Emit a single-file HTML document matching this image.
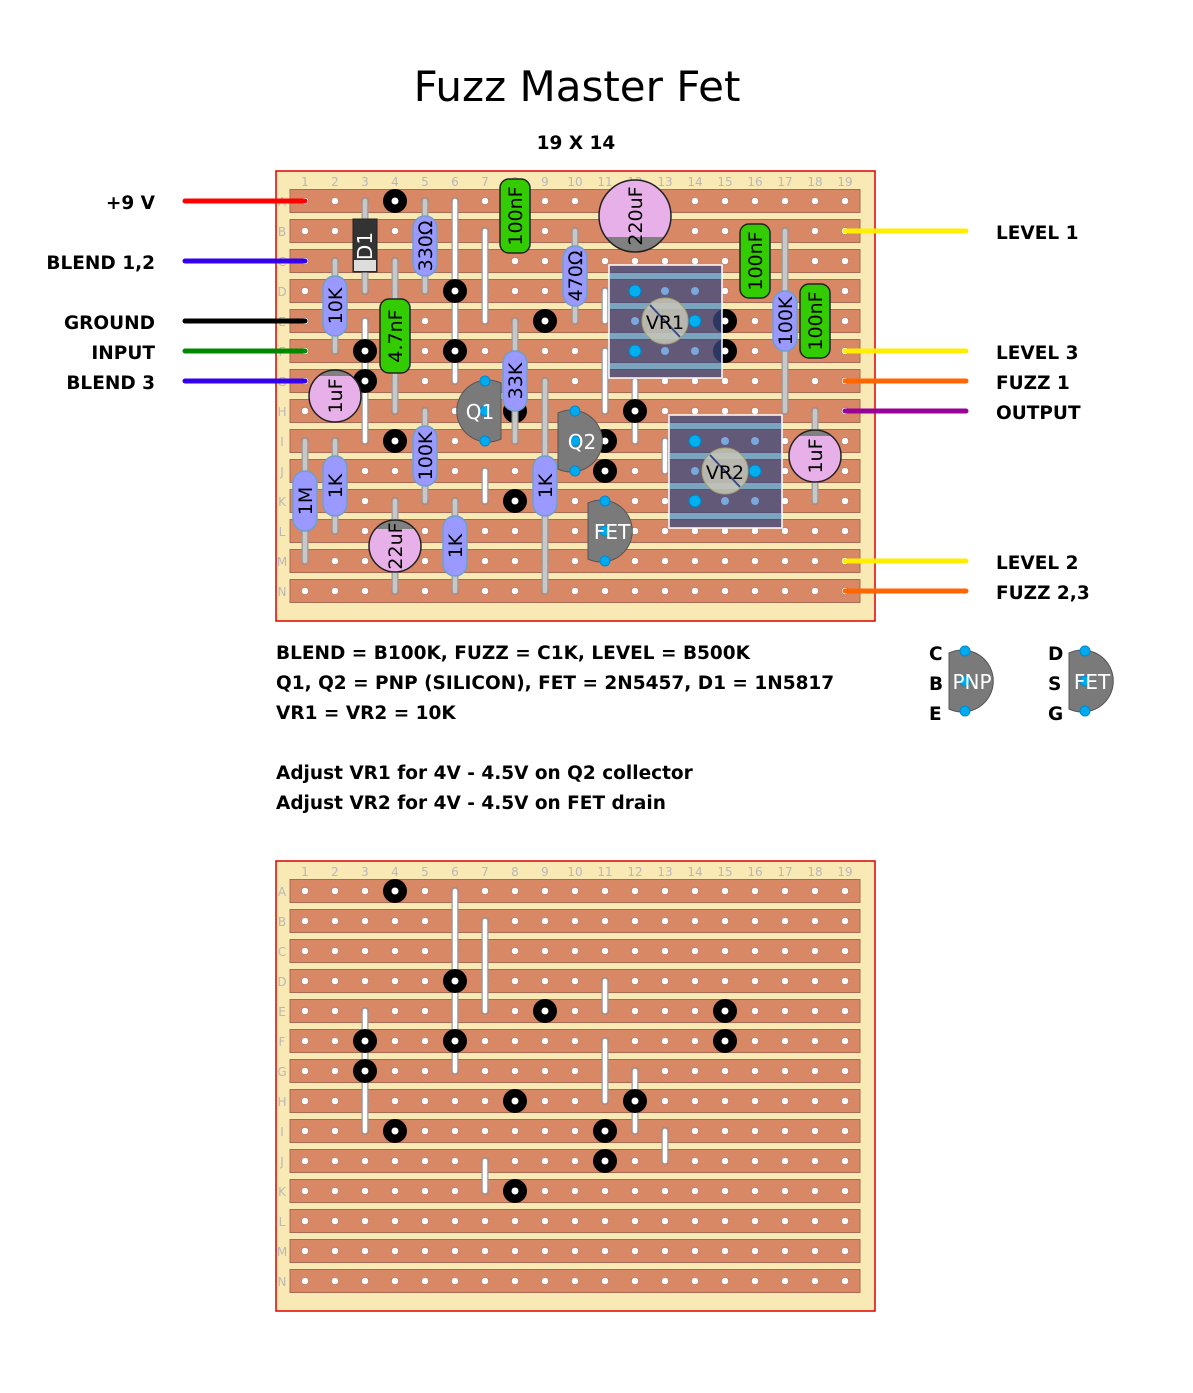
<!DOCTYPE html>
<html><head><meta charset="utf-8"><style>
html,body{margin:0;padding:0;background:#fff;}
svg{display:block;}
.lbl{font-family:"DejaVu Sans","Liberation Sans",sans-serif;font-weight:bold;font-size:18.5px;fill:#000;}
.num{font-family:"DejaVu Sans","Liberation Sans",sans-serif;font-size:12px;fill:#b8b8b8;}
.pt{font-family:"DejaVu Sans","Liberation Sans",sans-serif;font-size:19px;fill:#000;}
.wt{font-family:"DejaVu Sans","Liberation Sans",sans-serif;font-size:20px;fill:#fff;}
</style></head><body>
<svg width="1193" height="1393" viewBox="0 0 1193 1393" xmlns="http://www.w3.org/2000/svg">
<defs>
<pattern id="holes" patternUnits="userSpaceOnUse" x="290" y="186" width="30" height="30">
<circle cx="15" cy="15" r="3.6" fill="#fff" stroke="#b07060" stroke-width="0.6"/>
</pattern>
<g id="base">
<rect x="276" y="171" width="599" height="450" fill="#f9e9b4" stroke="#e00000" stroke-width="1.5"/>
<g fill="#d98866" stroke="#a86a52" stroke-width="1">
<rect x="290" y="189.5" width="570" height="23"/><rect x="290" y="219.5" width="570" height="23"/>
<rect x="290" y="249.5" width="570" height="23"/><rect x="290" y="279.5" width="570" height="23"/>
<rect x="290" y="309.5" width="570" height="23"/><rect x="290" y="339.5" width="570" height="23"/>
<rect x="290" y="369.5" width="570" height="23"/><rect x="290" y="399.5" width="570" height="23"/>
<rect x="290" y="429.5" width="570" height="23"/><rect x="290" y="459.5" width="570" height="23"/>
<rect x="290" y="489.5" width="570" height="23"/><rect x="290" y="519.5" width="570" height="23"/>
<rect x="290" y="549.5" width="570" height="23"/><rect x="290" y="579.5" width="570" height="23"/>
</g>
<rect x="290" y="186" width="570" height="420" fill="url(#holes)"/>
<g stroke="#999" stroke-width="7" stroke-linecap="round">
<line x1="455" y1="201" x2="455" y2="381"/><line x1="485" y1="231" x2="485" y2="321"/>
<line x1="365" y1="321" x2="365" y2="441"/><line x1="605" y1="291" x2="605" y2="321"/>
<line x1="605" y1="351" x2="605" y2="411"/><line x1="635" y1="381" x2="635" y2="441"/>
<line x1="665" y1="441" x2="665" y2="471"/><line x1="485" y1="471" x2="485" y2="501"/>
</g>
<g stroke="#fff" stroke-width="4.5" stroke-linecap="round">
<line x1="455" y1="201" x2="455" y2="381"/><line x1="485" y1="231" x2="485" y2="321"/>
<line x1="365" y1="321" x2="365" y2="441"/><line x1="605" y1="291" x2="605" y2="321"/>
<line x1="605" y1="351" x2="605" y2="411"/><line x1="635" y1="381" x2="635" y2="441"/>
<line x1="665" y1="441" x2="665" y2="471"/><line x1="485" y1="471" x2="485" y2="501"/>
</g>
<g fill="#000">
<circle cx="395" cy="201" r="12"/><circle cx="455" cy="291" r="12"/><circle cx="545" cy="321" r="12"/>
<circle cx="725" cy="321" r="12"/><circle cx="365" cy="351" r="12"/><circle cx="455" cy="351" r="12"/>
<circle cx="725" cy="351" r="12"/><circle cx="365" cy="381" r="12"/><circle cx="515" cy="411" r="12"/>
<circle cx="635" cy="411" r="12"/><circle cx="395" cy="441" r="12"/><circle cx="605" cy="441" r="12"/>
<circle cx="605" cy="471" r="12"/><circle cx="515" cy="501" r="12"/>
</g>
<g fill="#fff">
<circle cx="395" cy="201" r="3.5"/><circle cx="455" cy="291" r="3.5"/><circle cx="545" cy="321" r="3.5"/>
<circle cx="725" cy="321" r="3.5"/><circle cx="365" cy="351" r="3.5"/><circle cx="455" cy="351" r="3.5"/>
<circle cx="725" cy="351" r="3.5"/><circle cx="365" cy="381" r="3.5"/><circle cx="515" cy="411" r="3.5"/>
<circle cx="635" cy="411" r="3.5"/><circle cx="395" cy="441" r="3.5"/><circle cx="605" cy="441" r="3.5"/>
<circle cx="605" cy="471" r="3.5"/><circle cx="515" cy="501" r="3.5"/>
</g>
</g>
</defs>

<text x="577" y="101" text-anchor="middle" font-family="DejaVu Sans,Liberation Sans,sans-serif" font-size="42" fill="#000">Fuzz Master Fet</text>
<text x="576" y="149" text-anchor="middle" class="lbl">19 X 14</text>

<use href="#base"/>
<use href="#base" transform="translate(0,690)"/>

<g class="num" text-anchor="middle">
<text x="305" y="186">1</text><text x="335" y="186">2</text><text x="365" y="186">3</text><text x="395" y="186">4</text><text x="425" y="186">5</text><text x="455" y="186">6</text><text x="485" y="186">7</text><text x="515" y="186">8</text><text x="545" y="186">9</text><text x="575" y="186">10</text><text x="605" y="186">11</text><text x="635" y="186">12</text><text x="665" y="186">13</text><text x="695" y="186">14</text><text x="725" y="186">15</text><text x="755" y="186">16</text><text x="785" y="186">17</text><text x="815" y="186">18</text><text x="845" y="186">19</text>
<text x="282" y="206">A</text><text x="282" y="236">B</text><text x="282" y="266">C</text><text x="282" y="296">D</text><text x="282" y="326">E</text><text x="282" y="356">F</text><text x="282" y="386">G</text><text x="282" y="416">H</text><text x="282" y="446">I</text><text x="282" y="476">J</text><text x="282" y="506">K</text><text x="282" y="536">L</text><text x="282" y="566">M</text><text x="282" y="596">N</text>
</g>
<g class="num" text-anchor="middle">
<text x="305" y="876">1</text><text x="335" y="876">2</text><text x="365" y="876">3</text><text x="395" y="876">4</text><text x="425" y="876">5</text><text x="455" y="876">6</text><text x="485" y="876">7</text><text x="515" y="876">8</text><text x="545" y="876">9</text><text x="575" y="876">10</text><text x="605" y="876">11</text><text x="635" y="876">12</text><text x="665" y="876">13</text><text x="695" y="876">14</text><text x="725" y="876">15</text><text x="755" y="876">16</text><text x="785" y="876">17</text><text x="815" y="876">18</text><text x="845" y="876">19</text>
<text x="282" y="896">A</text><text x="282" y="926">B</text><text x="282" y="956">C</text><text x="282" y="986">D</text><text x="282" y="1016">E</text><text x="282" y="1046">F</text><text x="282" y="1076">G</text><text x="282" y="1106">H</text><text x="282" y="1136">I</text><text x="282" y="1166">J</text><text x="282" y="1196">K</text><text x="282" y="1226">L</text><text x="282" y="1256">M</text><text x="282" y="1286">N</text>
</g>

<g stroke-width="5" stroke-linecap="round">
<line x1="185" y1="201" x2="305" y2="201" stroke="#ff0000"/>
<line x1="185" y1="261" x2="305" y2="261" stroke="#3300ee"/>
<line x1="185" y1="321" x2="305" y2="321" stroke="#000"/>
<line x1="185" y1="351" x2="305" y2="351" stroke="#008800"/>
<line x1="185" y1="381" x2="305" y2="381" stroke="#3300ee"/>
<line x1="845" y1="231" x2="966" y2="231" stroke="#ffee00"/>
<line x1="845" y1="351" x2="966" y2="351" stroke="#ffee00"/>
<line x1="845" y1="381" x2="966" y2="381" stroke="#ff6600"/>
<line x1="845" y1="411" x2="966" y2="411" stroke="#990099"/>
<line x1="845" y1="561" x2="966" y2="561" stroke="#ffee00"/>
<line x1="845" y1="591" x2="966" y2="591" stroke="#ff6600"/>
</g>
<g class="lbl" text-anchor="end">
<text x="155" y="209">+9 V</text><text x="155" y="269">BLEND 1,2</text><text x="155" y="329">GROUND</text><text x="155" y="359">INPUT</text><text x="155" y="389">BLEND 3</text>
</g>
<g class="lbl">
<text x="996" y="239">LEVEL 1</text><text x="996" y="359">LEVEL 3</text><text x="996" y="389">FUZZ 1</text><text x="996" y="419">OUTPUT</text><text x="996" y="569">LEVEL 2</text><text x="996" y="599">FUZZ 2,3</text>
</g>

<g stroke="#999" stroke-width="7" stroke-linecap="round">
<line x1="425" y1="201" x2="425" y2="291"/><line x1="335" y1="261" x2="335" y2="351"/>
<line x1="575" y1="231" x2="575" y2="321"/><line x1="515" y1="321" x2="515" y2="441"/>
<line x1="785" y1="231" x2="785" y2="411"/><line x1="425" y1="411" x2="425" y2="501"/>
<line x1="305" y1="441" x2="305" y2="561"/><line x1="335" y1="441" x2="335" y2="531"/>
<line x1="545" y1="381" x2="545" y2="591"/><line x1="455" y1="501" x2="455" y2="591"/>
<line x1="395" y1="261" x2="395" y2="411"/><line x1="365" y1="201" x2="365" y2="291"/>
<line x1="815" y1="411" x2="815" y2="501"/><line x1="395" y1="501" x2="395" y2="591"/>
</g>
<g stroke="#c8c8c8" stroke-width="4.5" stroke-linecap="round">
<line x1="425" y1="201" x2="425" y2="291"/><line x1="335" y1="261" x2="335" y2="351"/>
<line x1="575" y1="231" x2="575" y2="321"/><line x1="515" y1="321" x2="515" y2="441"/>
<line x1="785" y1="231" x2="785" y2="411"/><line x1="425" y1="411" x2="425" y2="501"/>
<line x1="305" y1="441" x2="305" y2="561"/><line x1="335" y1="441" x2="335" y2="531"/>
<line x1="545" y1="381" x2="545" y2="591"/><line x1="455" y1="501" x2="455" y2="591"/>
<line x1="395" y1="261" x2="395" y2="411"/><line x1="365" y1="201" x2="365" y2="291"/>
<line x1="815" y1="411" x2="815" y2="501"/><line x1="395" y1="501" x2="395" y2="591"/>
</g>

<g fill="#9999ff" stroke="#6f9fcc" stroke-width="1.5">
<rect x="413" y="216" width="24" height="60" rx="12"/>
<rect x="323" y="276" width="24" height="60" rx="12"/>
<rect x="563" y="246" width="24" height="60" rx="12"/>
<rect x="503" y="351" width="24" height="60" rx="12"/>
<rect x="773" y="291" width="24" height="60" rx="12"/>
<rect x="413" y="426" width="24" height="60" rx="12"/>
<rect x="293" y="471" width="24" height="60" rx="12"/>
<rect x="323" y="456" width="24" height="60" rx="12"/>
<rect x="533" y="456" width="24" height="60" rx="12"/>
<rect x="443" y="516" width="24" height="60" rx="12"/>
</g>
<g class="pt" text-anchor="middle">
<text transform="translate(432,246) rotate(-90)">330Ω</text>
<text transform="translate(342,306) rotate(-90)">10K</text>
<text transform="translate(582,276) rotate(-90)">470Ω</text>
<text transform="translate(522,381) rotate(-90)">33K</text>
<text transform="translate(792,321) rotate(-90)">100K</text>
<text transform="translate(432,456) rotate(-90)">100K</text>
<text transform="translate(312,501) rotate(-90)">1M</text>
<text transform="translate(342,486) rotate(-90)">1K</text>
<text transform="translate(552,486) rotate(-90)">1K</text>
<text transform="translate(462,546) rotate(-90)">1K</text>
</g>

<rect x="353" y="219" width="24" height="53" fill="#333" stroke="#222"/>
<rect x="354" y="260" width="22" height="11" fill="#ddd"/>
<text class="wt" text-anchor="middle" transform="translate(372,246) rotate(-90)">D1</text>

<g fill="#33cc00" stroke="#222" stroke-width="1.5">
<rect x="500" y="179" width="30" height="74" rx="9"/>
<rect x="380" y="299" width="30" height="74" rx="9"/>
<rect x="740" y="224" width="30" height="74" rx="9"/>
<rect x="800" y="284" width="30" height="74" rx="9"/>
</g>
<g class="pt" text-anchor="middle">
<text transform="translate(522,216) rotate(-90)">100nF</text>
<text transform="translate(402,336) rotate(-90)">4.7nF</text>
<text transform="translate(762,261) rotate(-90)">100nF</text>
<text transform="translate(822,321) rotate(-90)">100nF</text>
</g>

<clipPath id="c1"><circle cx="635" cy="216" r="36"/></clipPath>
<circle cx="635" cy="216" r="36" fill="#e8b0e8"/>
<rect x="595" y="237" width="80" height="20" fill="#808080" clip-path="url(#c1)"/>
<circle cx="635" cy="216" r="36" fill="none" stroke="#222" stroke-width="1.5"/>
<text class="pt" text-anchor="middle" transform="translate(642,216) rotate(-90)" font-size="21">220uF</text>

<clipPath id="c2"><circle cx="335" cy="396" r="26"/></clipPath>
<circle cx="335" cy="396" r="26" fill="#e8b0e8"/>
<rect x="305" y="368" width="60" height="8" fill="#808080" clip-path="url(#c2)"/>
<circle cx="335" cy="396" r="26" fill="none" stroke="#222" stroke-width="1.5"/>
<text class="pt" text-anchor="middle" transform="translate(342,396) rotate(-90)">1uF</text>

<clipPath id="c3"><circle cx="815" cy="456" r="26"/></clipPath>
<circle cx="815" cy="456" r="26" fill="#e8b0e8"/>
<rect x="785" y="428" width="60" height="8" fill="#808080" clip-path="url(#c3)"/>
<circle cx="815" cy="456" r="26" fill="none" stroke="#222" stroke-width="1.5"/>
<text class="pt" text-anchor="middle" transform="translate(822,456) rotate(-90)">1uF</text>

<clipPath id="c4"><circle cx="395" cy="546" r="26"/></clipPath>
<circle cx="395" cy="546" r="26" fill="#e8b0e8"/>
<rect x="365" y="518" width="60" height="11" fill="#808080" clip-path="url(#c4)"/>
<circle cx="395" cy="546" r="26" fill="none" stroke="#222" stroke-width="1.5"/>
<text class="pt" text-anchor="middle" transform="translate(402,546) rotate(-90)">22uF</text>

<g>
<rect x="609" y="265" width="113" height="113" fill="#3a4a80" fill-opacity="0.75" stroke="#fff" stroke-width="1.5"/>
<g fill="#7fb0cc" fill-opacity="0.8">
<rect x="610" y="273" width="111" height="6"/><rect x="610" y="303" width="111" height="6"/><rect x="610" y="333" width="111" height="6"/><rect x="610" y="363" width="111" height="6"/>
</g>
<circle cx="665" cy="321" r="23" fill="#c8c8b8" fill-opacity="0.85" stroke="#a0a070"/>
<line x1="650" y1="305" x2="680" y2="337" stroke="#3a4a80" stroke-width="2"/>
<g fill="#7aa8dd"><circle cx="665" cy="291" r="4"/><circle cx="695" cy="291" r="4"/><circle cx="635" cy="321" r="4"/><circle cx="665" cy="351" r="4"/><circle cx="695" cy="351" r="4"/></g>
<g fill="#00b0f0" stroke="#0080c0"><circle cx="635" cy="291" r="6"/><circle cx="695" cy="321" r="6"/><circle cx="635" cy="351" r="6"/></g>
<text class="pt" x="665" y="329" text-anchor="middle" font-size="21">VR1</text>
</g>
<g>
<rect x="669" y="415" width="113" height="113" fill="#3a4a80" fill-opacity="0.75" stroke="#fff" stroke-width="1.5"/>
<g fill="#7fb0cc" fill-opacity="0.8">
<rect x="670" y="423" width="111" height="6"/><rect x="670" y="453" width="111" height="6"/><rect x="670" y="483" width="111" height="6"/><rect x="670" y="513" width="111" height="6"/>
</g>
<circle cx="725" cy="471" r="23" fill="#c8c8b8" fill-opacity="0.85" stroke="#a0a070"/>
<line x1="710" y1="455" x2="740" y2="487" stroke="#3a4a80" stroke-width="2"/>
<g fill="#7aa8dd"><circle cx="725" cy="441" r="4"/><circle cx="755" cy="441" r="4"/><circle cx="695" cy="471" r="4"/><circle cx="725" cy="501" r="4"/><circle cx="755" cy="501" r="4"/></g>
<g fill="#00b0f0" stroke="#0080c0"><circle cx="695" cy="441" r="6"/><circle cx="755" cy="471" r="6"/><circle cx="695" cy="501" r="6"/></g>
<text class="pt" x="725" y="479" text-anchor="middle" font-size="21">VR2</text>
</g>

<g fill="#7a7a7a" stroke="#555" stroke-width="1">
<path d="M501,383 L501,439 A31,31 0 1 1 501,383 Z"/>
<path d="M558,413 L558,469 A31,31 0 1 0 558,413 Z"/>
<path d="M588,503 L588,559 A31,31 0 1 0 588,503 Z"/>
<path d="M949,653 L949,709 A31,31 0 1 0 949,653 Z"/>
<path d="M1069,653 L1069,709 A31,31 0 1 0 1069,653 Z"/>
</g>
<g fill="#00aaee" stroke="#0088cc">
<circle cx="485" cy="381" r="5"/><circle cx="485" cy="411" r="5"/><circle cx="485" cy="441" r="5"/>
<circle cx="575" cy="411" r="5"/><circle cx="575" cy="441" r="5"/><circle cx="575" cy="471" r="5"/>
<circle cx="605" cy="501" r="5"/><circle cx="605" cy="531" r="5"/><circle cx="605" cy="561" r="5"/>
<circle cx="965" cy="651" r="5"/><circle cx="965" cy="681" r="5"/><circle cx="965" cy="711" r="5"/>
<circle cx="1085" cy="651" r="5"/><circle cx="1085" cy="681" r="5"/><circle cx="1085" cy="711" r="5"/>
</g>
<g class="wt" text-anchor="middle">
<text x="480" y="419">Q1</text><text x="582" y="449">Q2</text><text x="612" y="539">FET</text>
<text x="972" y="689">PNP</text><text x="1092" y="689">FET</text>
</g>
<g class="lbl">
<text x="929" y="660">C</text><text x="929" y="690">B</text><text x="929" y="720">E</text>
<text x="1048" y="660">D</text><text x="1048" y="690">S</text><text x="1048" y="720">G</text>
</g>

<g class="lbl">
<text x="276" y="659">BLEND = B100K, FUZZ = C1K, LEVEL = B500K</text>
<text x="276" y="689">Q1, Q2 = PNP (SILICON), FET = 2N5457, D1 = 1N5817</text>
<text x="276" y="719">VR1 = VR2 = 10K</text>
<text x="276" y="779">Adjust VR1 for 4V - 4.5V on Q2 collector</text>
<text x="276" y="809">Adjust VR2 for 4V - 4.5V on FET drain</text>
</g>
</svg>
</body></html>
